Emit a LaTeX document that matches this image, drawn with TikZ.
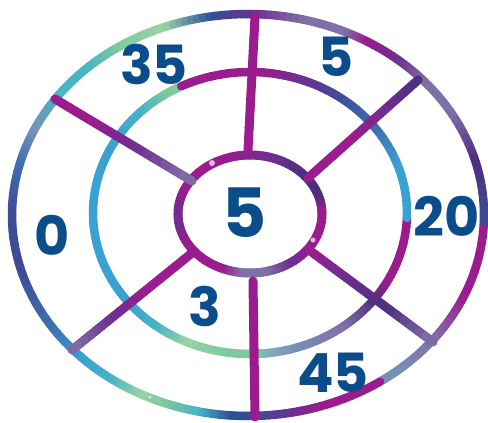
\documentclass[tikz,border=0pt]{standalone}
\usepackage{fontspec}
\setmainfont{Poppins}
\usetikzlibrary{calc}
\definecolor{mag}{HTML}{9B1C8E}
\definecolor{pur}{HTML}{6E2E90}
\definecolor{dpur}{HTML}{4F2E7E}
\definecolor{gpur}{HTML}{8070A8}
\definecolor{ind}{HTML}{3E4C96}
\definecolor{dblue}{HTML}{2C5096}
\definecolor{blue}{HTML}{3E70B0}
\definecolor{sky}{HTML}{3AA2D2}
\definecolor{teal}{HTML}{48B4C4}
\definecolor{green}{HTML}{7FC9A0}
\definecolor{lgreen}{HTML}{9AD3A5}
\definecolor{gblue}{HTML}{7890B8}
\definecolor{lgb}{HTML}{80B0BC}
\definecolor{numblue}{HTML}{0B4D8A}
\tikzset{
  ringline/.style={line width=9pt, line cap=round},
  spokeline/.style={line width=9pt, line cap=round},
  num/.style={text=numblue, inner sep=0pt, font=\bfseries\fontsize{54}{54}\selectfont},
  bignum/.style={text=numblue, inner sep=0pt, font=\bfseries\fontsize{68}{68}\selectfont},
  glow/.style={inner color=white, outer color=white, opacity=0.75},
}
\newcommand\gradring[6]{%
  \foreach \ang/\cc [remember=\ang as \pang (initially 9999), remember=\cc as \pcc (initially mag)] in {#6}{%
    \pgfmathtruncatemacro\ok{\ang>\pang}%
    \ifnum\ok=1
      \foreach \i in {1,...,8}{%
        \pgfmathsetmacro\tA{\pang+(\ang-\pang)*(\i-1)/8}%
        \pgfmathsetmacro\tB{\pang+(\ang-\pang)*\i/8}%
        \pgfmathtruncatemacro\pp{100-(\i-0.5)*100/8}%
        \draw[ringline, line width=#5, draw=\pcc!\pp!\cc] (#1,#2) ++(\tA:#3 and #4) arc[start angle=\tA, end angle=\tB, x radius=#3, y radius=#4];
      }%
    \fi
  }%
}
\newcommand\gradline[3]{%
  \foreach \ff/\cc [remember=\ff as \pf (initially 2), remember=\cc as \pcc (initially mag)] in {#3}{%
    \pgfmathtruncatemacro\ok{\ff>\pf}%
    \ifnum\ok=1
      \foreach \i in {1,...,6}{%
        \pgfmathsetmacro\tA{\pf+(\ff-\pf)*(\i-1)/6}%
        \pgfmathsetmacro\tB{\pf+(\ff-\pf)*\i/6}%
        \pgfmathtruncatemacro\pp{100-(\i-0.5)*100/6}%
        \draw[spokeline, draw=\pcc!\pp!\cc] ($(#1)!\tA!(#2)$) -- ($(#1)!\tB!(#2)$);
      }%
    \fi
  }%
}
\begin{document}
\begin{tikzpicture}[x=1pt, y=-1pt]
\useasboundingbox (0,0) rectangle (488,423);
% outer ring
\gradring{248}{215}{236}{201}{8.5pt}{2/mag, 25/mag, 39/gpur, 52/gblue, 56/gblue, 56/mag, 72/mag, 80/pur, 88/ind, 95/dblue, 103/teal, 112/green, 118/lgreen, 126/teal, 135/sky, 147/blue, 165/ind, 182/ind, 196/blue, 206/gblue, 218/teal, 228/teal, 238/green, 250/lgreen, 262/dblue, 272/pur, 285/gpur, 295/gpur, 301/mag, 310/pur, 320/gpur, 330/gpur, 345/dpur, 362/ind}
% middle ring
\gradring{250}{213}{157}{141}{8.5pt}{2/mag, 30/mag, 40/dpur, 55/gpur, 75/gblue, 85/lgb, 89/green, 100/green, 115/lgreen, 128/teal, 142/sky, 180/sky, 210/sky, 228/teal, 240/green, 244/green, 244/mag, 275/mag, 290/pur, 305/ind, 325/blue, 342/sky, 362/sky}
% inner ring
\gradring{250}{214}{72}{59}{9pt}{0/mag, 30/mag, 60/pur, 80/gpur, 100/gpur, 115/mag, 150/mag, 180/pur, 210/mag, 250/mag, 290/pur, 320/dpur, 345/dpur, 360/mag}
% spokes
\coordinate (s1i) at (248,150); \coordinate (s1o) at (255,17);
\coordinate (s2i) at (308,178); \coordinate (s2o) at (418,80);
\coordinate (s3i) at (192,181); \coordinate (s3o) at (55,99);
\coordinate (s4i) at (192,253); \coordinate (s4o) at (72,350);
\coordinate (s5i) at (253,281); \coordinate (s5o) at (255,417);
\coordinate (s6i) at (309,250); \coordinate (s6o) at (433,342);
\gradline{s1i}{s1o}{0/mag, 1/mag}
\gradline{s2i}{s2o}{0/mag, 0.45/mag, 0.75/pur, 1/dpur}
\gradline{s3o}{s3i}{0/mag, 0.3/mag, 0.6/pur, 1/gpur}
\gradline{s4i}{s4o}{0/mag, 0.4/mag, 0.7/pur, 1/gpur}
\gradline{s5i}{s5o}{0/mag, 1/mag}
\gradline{s6i}{s6o}{0/mag, 0.3/pur, 0.65/dpur, 1/gpur}
% sparkles
\foreach \gx/\gy/\gr in {212/163/3, 313/240/2.5, 97/380/2, 30/240/1.5, 420/110/1.5, 150/397/1.5}{
  \fill[white, opacity=0.7] (\gx,\gy) circle[radius=\gr];
}
% numbers
\node[num] (n35) at (154,64) {35};
\node[num] (n5a) at (336,57) {5};
\node[num] (n0) at (52,235) {0};
\node[num] (n20) at (447,216) {20};
\node[num] (n3) at (205,306) {3};
\node[num] (n45) at (333,373) {45};
\node[bignum] (nc) at (245,213) {5};
\end{tikzpicture}
\end{document}
